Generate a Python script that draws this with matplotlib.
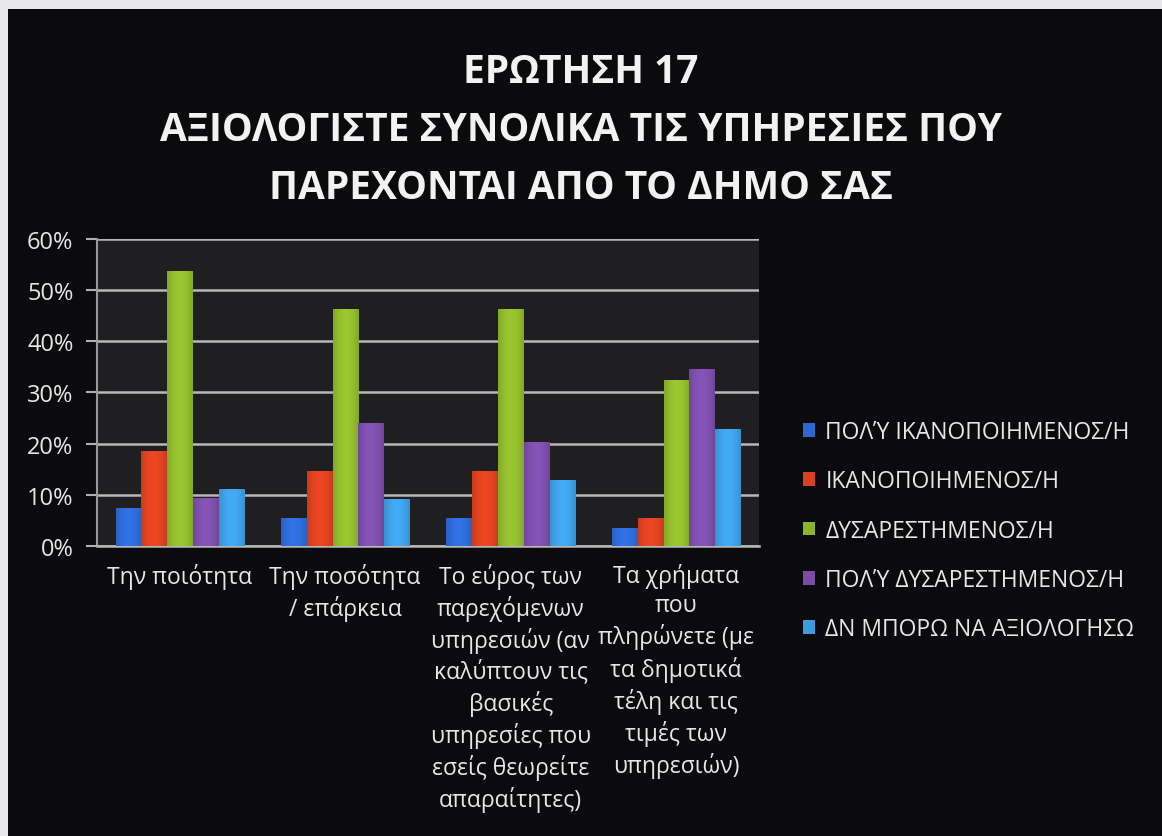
import numpy as np
import matplotlib
matplotlib.use("Agg")
import matplotlib.pyplot as plt
from matplotlib.patches import Rectangle
from matplotlib.colors import to_rgb
from matplotlib.ticker import PercentFormatter

plt.rcParams['font.family'] = ['Open Sans', 'DejaVu Sans']

# ----------------------------
# Data
# ----------------------------
categories = [
    "Την ποιότητα",
    "Την ποσότητα\n/ επάρκεια",
    "Το εύρος των\nπαρεχόμενων\nυπηρεσιών (αν\nκαλύπτουν τις\nβασικές\nυπηρεσίες που\nεσείς θεωρείτε\nαπαραίτητες)",
    "Τα χρήματα\nπου\nπληρώνετε (με\nτα δημοτικά\nτέλη και τις\nτιμές των\nυπηρεσιών)",
]
series_names = [
    "ΠΟΛΎ ΙΚΑΝΟΠΟΙΗΜΕΝΟΣ/Η",
    "ΙΚΑΝΟΠΟΙΗΜΕΝΟΣ/Η",
    "ΔΥΣΑΡΕΣΤΗΜΕΝΟΣ/Η",
    "ΠΟΛΎ ΔΥΣΑΡΕΣΤΗΜΕΝΟΣ/Η",
    "ΔΝ ΜΠΟΡΩ ΝΑ ΑΞΙΟΛΟΓΗΣΩ",
]
very_satisfied = [7.4, 5.4, 5.4, 3.6]
satisfied = [18.6, 14.6, 14.6, 5.5]
dissatisfied = [53.8, 46.3, 46.3, 32.5]
very_dissatisfied = [9.3, 24.0, 20.3, 34.6]
cannot_rate = [11.1, 9.2, 12.8, 22.9]

colors = ["#2d68d0", "#d8401f", "#8db52c", "#7a4ca6", "#3c9ce0"]
title = "ΕΡΩΤΗΣΗ 17\nΑΞΙΟΛΟΓΙΣΤΕ ΣΥΝΟΛΙΚΑ ΤΙΣ ΥΠΗΡΕΣΙΕΣ ΠΟΥ\nΠΑΡΕΧΟΝΤΑΙ ΑΠΟ ΤΟ ΔΗΜΟ ΣΑΣ"


def shade_bars(ax, bars, color):
    """Paint a soft left-to-right gradient inside each bar."""
    base = np.array(to_rgb(color))
    t = np.linspace(0, 1, 64)
    k = 0.78 + 0.32 * np.sin(np.pi * (0.15 + 0.7 * t))
    row = np.clip(base[None, :] * k[:, None], 0, 1)
    img = row[None, :, :]
    for b in bars:
        x0, y0 = b.get_x(), b.get_y()
        w, h = b.get_width(), b.get_height()
        im = ax.imshow(img, extent=(x0, x0 + w, y0, y0 + h), aspect="auto",
                       zorder=4, interpolation="bilinear")
        im.set_clip_path(b)


# ----------------------------
# Figure
# ----------------------------
fig = plt.figure(figsize=(11.62, 8.37), dpi=100)
fig.patch.set_facecolor("#e8e8ea")
# dark slide inside the photographed frame
fig.add_artist(Rectangle((0.007, 0), 0.993, 0.988, transform=fig.transFigure,
                         facecolor="#0b0b0e", edgecolor="none", zorder=0))

ax = fig.add_axes([0.0835, 0.3465, 0.5695, 0.3668])
ax.set_facecolor("#1f1f21")

all_series = [very_satisfied, satisfied, dissatisfied, very_dissatisfied, cannot_rate]
x = np.arange(len(categories))
n = len(all_series)
bar_w = 0.156
for i, (vals, name, c) in enumerate(zip(all_series, series_names, colors)):
    offs = (i - (n - 1) / 2) * bar_w
    bars = ax.bar(x + offs, vals, width=bar_w * 0.97, color=c, label=name,
                  edgecolor="none", zorder=3)
    shade_bars(ax, bars, c)

ax.set_xlim(-0.5, len(categories) - 0.5)
ax.set_ylim(0, 60)
ax.set_yticks(np.arange(0, 61, 10))
ax.yaxis.set_major_formatter(PercentFormatter(decimals=0))
ax.grid(axis="y", color="#b8b8b8", linewidth=1.8, zorder=1)
ax.set_axisbelow(True)

for s in ["top", "right"]:
    ax.spines[s].set_visible(False)
ax.spines["left"].set_color("#9a9a9a")
ax.spines["left"].set_linewidth(1.5)
ax.spines["bottom"].set_color("#b8b8b8")
ax.spines["bottom"].set_linewidth(1.8)

ax.tick_params(axis="y", colors="#b0b0b0", length=8, width=1.5, pad=9,
               labelsize=17, labelcolor="#e6e6e6")
ax.tick_params(axis="x", length=0, pad=12)
ax.set_xticks(x)
ax.set_xticklabels(categories, fontsize=16.5, color="#e6e6e6",
                   linespacing=1.31, va="top")

fig.text(0.5, 0.844, title, ha="center", va="center", fontsize=28,
         fontweight="bold", color="#f2f2f2", linespacing=1.62)

leg = ax.legend(loc="center left", bbox_to_anchor=(1.035, 0.0, 0.5, 0.1),
                frameon=False, fontsize=16.5, labelcolor="#e6e6e6",
                handlelength=0.55, handleheight=0.55, handletextpad=0.45,
                labelspacing=1.1)

fig.savefig("out.png", dpi=100, facecolor=fig.get_facecolor())
